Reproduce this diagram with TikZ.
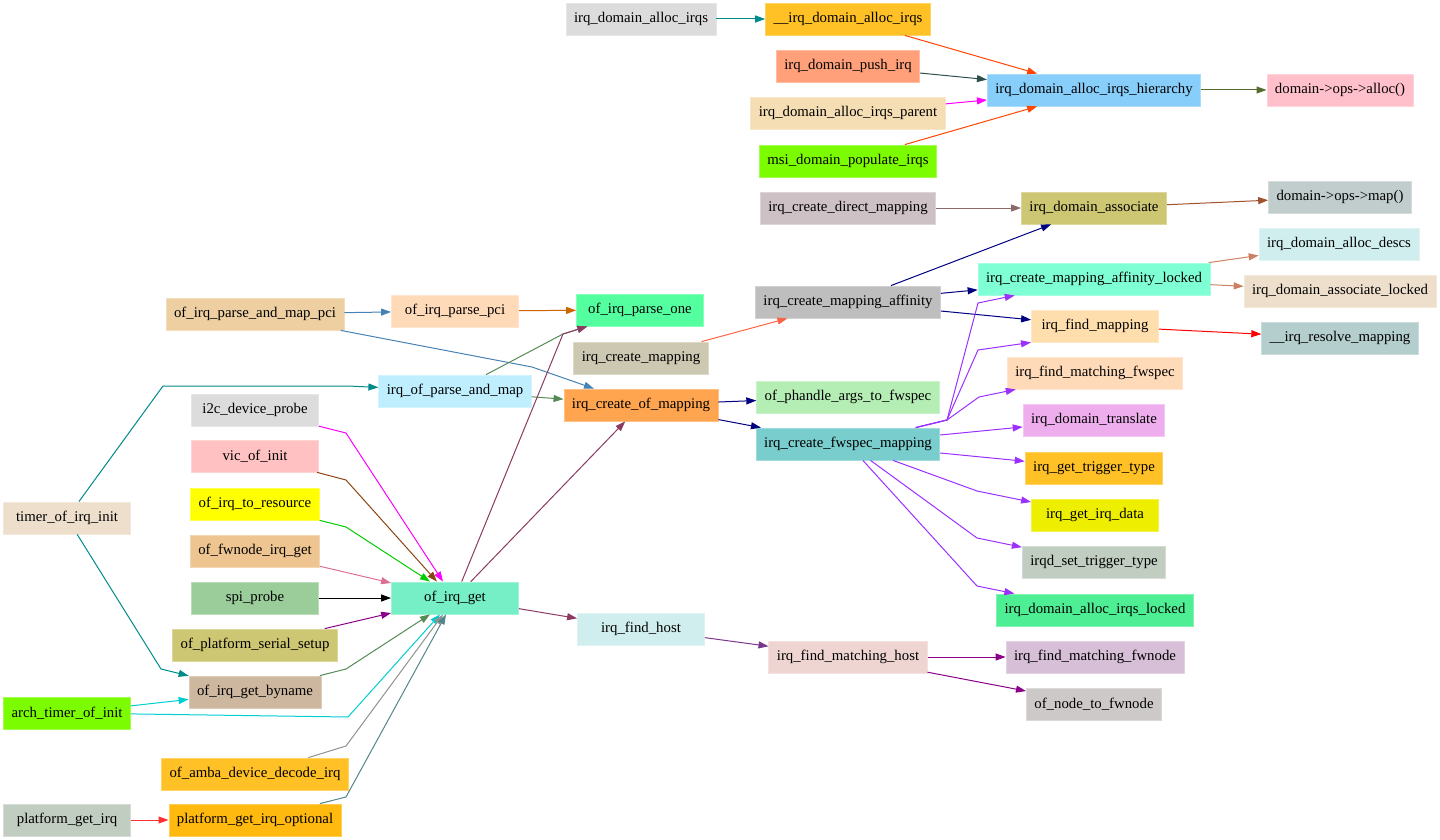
\documentclass[tikz,border=0pt]{standalone}
\usepackage{fontspec}
\setmainfont{Liberation Serif}
\usepackage{tikz}
\usetikzlibrary{arrows.meta}

% node fills
\definecolor{nGains}{HTML}{DCDCDC}
\definecolor{nGold}{HTML}{FFC125}
\definecolor{nSalmon}{HTML}{FFA07A}
\definecolor{nWheat}{HTML}{F5DEB3}
\definecolor{nLawn}{HTML}{7CFC00}
\definecolor{nSky}{HTML}{87CEFA}
\definecolor{nPink}{HTML}{FFC0CB}
\definecolor{nLavBlush}{HTML}{CDC1C5}
\definecolor{nKhaki}{HTML}{CDC673}
\definecolor{nAzure}{HTML}{C1CDCD}
\definecolor{nLCyan}{HTML}{D1EEEE}
\definecolor{nAqua}{HTML}{7FFFD4}
\definecolor{nAntique}{HTML}{EEDFCC}
\definecolor{nGray}{HTML}{BEBEBE}
\definecolor{nNavajo}{HTML}{FFDEAD}
\definecolor{nLCyanB}{HTML}{B4CDCD}
\definecolor{nCornsilk}{HTML}{CDC8B1}
\definecolor{nSeaA}{HTML}{54FF9F}
\definecolor{nPeach}{HTML}{FFDAB9}
\definecolor{nNavajoB}{HTML}{EECFA1}
\definecolor{nLBlue}{HTML}{BFEFFF}
\definecolor{nTan}{HTML}{FFA54F}
\definecolor{nDSea}{HTML}{B4EEB4}
\definecolor{nSlate}{HTML}{79CDCD}
\definecolor{nPlum}{HTML}{EEAEEE}
\definecolor{nYellowB}{HTML}{EEEE00}
\definecolor{nHoney}{HTML}{C1CDC1}
\definecolor{nSeaB}{HTML}{4EEE94}
\definecolor{nRosy}{HTML}{FFC1C1}
\definecolor{nYellow}{HTML}{FFFF00}
\definecolor{nBurly}{HTML}{EEC591}
\definecolor{nDSeaC}{HTML}{9BCD9B}
\definecolor{nBisque}{HTML}{CDB79E}
\definecolor{nDGold}{HTML}{FFB90F}
\definecolor{nAquaB}{HTML}{76EEC6}
\definecolor{nMisty}{HTML}{EED5D2}
\definecolor{nThistle}{HTML}{D8BFD8}
\definecolor{nSnow}{HTML}{CDC9C9}

% edge colours
\definecolor{eTeal}{HTML}{008B8B}
\definecolor{eOrangeRed}{HTML}{FF4500}
\definecolor{eDSlate}{HTML}{2F4F4F}
\definecolor{eMagenta}{HTML}{FF00FF}
\definecolor{eOlive}{HTML}{556B2F}
\definecolor{eRosy}{HTML}{8B6969}
\definecolor{eSienna}{HTML}{A0522D}
\definecolor{eNavy}{HTML}{000080}
\definecolor{eSalmon}{HTML}{CD8162}
\definecolor{eRed}{HTML}{FF0000}
\definecolor{eTomato}{HTML}{FF6347}
\definecolor{eSteel}{HTML}{4682B4}
\definecolor{eDOrange}{HTML}{CD6600}
\definecolor{ePale}{HTML}{548B54}
\definecolor{ePurple}{HTML}{9B30FF}
\definecolor{eSaddle}{HTML}{8B4513}
\definecolor{eGreen}{HTML}{00CD00}
\definecolor{eViolet}{HTML}{DB7093}
\definecolor{eDMagenta}{HTML}{8B008B}
\definecolor{eTurq}{HTML}{00CED1}
\definecolor{eGray}{HTML}{919191}
\definecolor{eCadet}{HTML}{53868B}
\definecolor{eFire}{HTML}{FF3030}
\definecolor{eHot}{HTML}{8B3A62}
\definecolor{eOrchid}{HTML}{7A378B}

\begin{document}
\begin{tikzpicture}[
  x=0.5pt,y=-0.5pt,
  font=\fontsize{7.4}{8.8}\selectfont,
  fn/.style={draw=#1!70!white,fill=#1,line width=0.4pt,
             minimum height=16pt,minimum width=63.5pt,
             inner xsep=4pt,inner ysep=0pt},
  ar/.style={-{Triangle[length=5pt,width=3.5pt]},line width=0.5pt}
]
\useasboundingbox (0,0) rectangle (1440,840);

%%%%%%%%%%%%%%%%%%%%%% left column %%%%%%%%%%%%%%%%%%%%%%%%%%%%%%%%%%%%%%%%%
\node[fn=nAntique] (timer) at ( 67,518) {timer\_of\_irq\_init};
\node[fn=nLawn]    (arch)  at ( 67,713) {arch\_timer\_of\_init};
\node[fn=nHoney]   (pgi)   at ( 67,820) {platform\_get\_irq};

\node[fn=nNavajoB] (mappci)  at (255,314) {of\_irq\_parse\_and\_map\_pci};
\node[fn=nGains]   (i2c)     at (255,410) {i2c\_device\_probe};
\node[fn=nRosy]    (vic)     at (255,456) {vic\_of\_init};
\node[fn=nYellow]  (tores)   at (255,504) {of\_irq\_to\_resource};
\node[fn=nBurly]   (fwget)   at (255,551) {of\_fwnode\_irq\_get};
\node[fn=nDSeaC]   (spi)     at (255,598) {spi\_probe};
\node[fn=nKhaki]   (serial)  at (255,645) {of\_platform\_serial\_setup};
\node[fn=nBisque]  (byname)  at (255,692) {of\_irq\_get\_byname};
\node[fn=nGold]    (amba)    at (255,774) {of\_amba\_device\_decode\_irq};
\node[fn=nDGold]   (optional) at (255,820) {platform\_get\_irq\_optional};

\node[fn=nPeach]   (parsepci) at (455,311) {of\_irq\_parse\_pci};
\node[fn=nLBlue]   (parsemap) at (455,391) {irq\_of\_parse\_and\_map};
\node[fn=nAquaB]   (ofget)    at (455,598) {of\_irq\_get};

%%%%%%%%%%%%%%%%%%%%%% middle column %%%%%%%%%%%%%%%%%%%%%%%%%%%%%%%%%%%%%%
\node[fn=nGains]    (dalloc)    at (641, 19) {irq\_domain\_alloc\_irqs};
\node[fn=nSeaA]     (parseone)  at (640,310) {of\_irq\_parse\_one};
\node[fn=nCornsilk] (createmap) at (641,358) {irq\_create\_mapping};
\node[fn=nTan]      (ofmap)     at (641,405) {irq\_create\_of\_mapping};
\node[fn=nLCyan]    (findhost)  at (641,629) {irq\_find\_host};

\node[fn=nGold]     (udalloc) at (848, 19) {\_\_irq\_domain\_alloc\_irqs};
\node[fn=nSalmon]   (push)    at (848, 66) {irq\_domain\_push\_irq};
\node[fn=nWheat]    (parent)  at (848,113) {irq\_domain\_alloc\_irqs\_parent};
\node[fn=nLawn]     (msi)     at (848,161) {msi\_domain\_populate\_irqs};
\node[fn=nLavBlush] (direct)  at (848,208) {irq\_create\_direct\_mapping};
\node[fn=nGray]     (affin)   at (848,302) {irq\_create\_mapping\_affinity};
\node[fn=nDSea]     (phandle) at (848,397) {of\_phandle\_args\_to\_fwspec};
\node[fn=nSlate]    (fwspec)  at (848,444) {irq\_create\_fwspec\_mapping};
\node[fn=nMisty]    (mhost)   at (848,657) {irq\_find\_matching\_host};

%%%%%%%%%%%%%%%%%%%%%% right columns %%%%%%%%%%%%%%%%%%%%%%%%%%%%%%%%%%%%%%
\node[fn=nSky]      (hier)      at (1094, 90) {irq\_domain\_alloc\_irqs\_hierarchy};
\node[fn=nKhaki]    (assoc)     at (1094,208) {irq\_domain\_associate};
\node[fn=nAqua]     (locked)    at (1094,279) {irq\_create\_mapping\_affinity\_locked};
\node[fn=nNavajo]   (findmap)   at (1095,326) {irq\_find\_mapping};
\node[fn=nPeach]    (matchfw)   at (1095,373) {irq\_find\_matching\_fwspec};
\node[fn=nPlum]     (translate) at (1094,420) {irq\_domain\_translate};
\node[fn=nGold]     (trigger)   at (1094,468) {irq\_get\_trigger\_type};
\node[fn=nYellowB]  (irqdata)   at (1095,515) {irq\_get\_irq\_data};
\node[fn=nHoney]    (settrig)   at (1094,562) {irqd\_set\_trigger\_type};
\node[fn=nSeaB]     (alocked)   at (1095,610) {irq\_domain\_alloc\_irqs\_locked};
\node[fn=nThistle]  (mfwnode)   at (1095,657) {irq\_find\_matching\_fwnode};
\node[fn=nSnow]     (tofwnode)  at (1094,704) {of\_node\_to\_fwnode};

\node[fn=nPink]     (opsalloc) at (1340, 90) {domain->ops->alloc()};
\node[fn=nAzure]    (opsmap)   at (1340,197) {domain->ops->map()};
\node[fn=nLCyan]    (descs)    at (1339,244) {irq\_domain\_alloc\_descs};
\node[fn=nAntique]  (assocl)   at (1340,291) {irq\_domain\_associate\_locked};
\node[fn=nLCyanB]   (resolve)  at (1340,338) {\_\_irq\_resolve\_mapping};

%%%%%%%%%%%%%%%%%%%%%% calls: alloc path %%%%%%%%%%%%%%%%%%%%%%%%%%%%%%%%%%
\draw[ar,eTeal]      (dalloc) -- (udalloc);
\draw[ar,eOrangeRed] (udalloc) -- (hier);
\draw[ar,eDSlate]    (push) -- (hier);
\draw[ar,eMagenta]   (parent) -- (hier);
\draw[ar,eOrangeRed] (msi) -- (hier);
\draw[ar,eOlive]     (hier) -- (opsalloc);

%%%%%%%%%%%%%%%%%%%%%% calls: mapping %%%%%%%%%%%%%%%%%%%%%%%%%%%%%%%%%%%%%
\draw[ar,eRosy]   (direct) -- (assoc);
\draw[ar,eSienna] (assoc) -- (opsmap);
\draw[ar,eNavy]   (affin) -- (assoc);
\draw[ar,eNavy]   (affin) -- (locked);
\draw[ar,eNavy]   (affin) -- (findmap);
\draw[ar,eSalmon] (locked) -- (descs);
\draw[ar,eSalmon] (locked) -- (assocl);
\draw[ar,eRed]    (findmap) -- (resolve);
\draw[ar,eTomato] (createmap) -- (affin);

\draw[ar,eSteel]   (mappci) -- (parsepci);
\draw[ar,eSteel]   (mappci) -- (532,367) -- (ofmap);
\draw[ar,eDOrange] (parsepci) -- (parseone);
\draw[ar,ePale]    (parsemap) -- (563,334) -- (parseone);
\draw[ar,ePale]    (parsemap) -- (ofmap);
\draw[ar,eNavy]    (ofmap) -- (phandle);
\draw[ar,eNavy]    (ofmap) -- (fwspec);

%%%%%%%%%%%%%%%%%%%%%% calls: fwspec %%%%%%%%%%%%%%%%%%%%%%%%%%%%%%%%%%%%%%
\draw[ar,ePurple] (fwspec) -- (947,420) -- (978,303) -- (locked);
\draw[ar,ePurple] (fwspec) -- (947,420) -- (978,350) -- ([xshift=-32pt]findmap.south);
\draw[ar,ePurple] (fwspec) -- (947,420) -- (979,397) -- (matchfw);
\draw[ar,ePurple] (fwspec) -- (translate);
\draw[ar,ePurple] (fwspec) -- (trigger);
\draw[ar,ePurple] (fwspec) -- (977,491) -- (irqdata);
\draw[ar,ePurple] (fwspec) -- (977,538) -- (settrig);
\draw[ar,ePurple] (fwspec) -- (977,586) -- (alocked);

%%%%%%%%%%%%%%%%%%%%%% calls into of_irq_get %%%%%%%%%%%%%%%%%%%%%%%%%%%%%%
\draw[ar,eTeal] (timer) -- (163,386) -- (348,386) -- (parsemap);
\draw[ar,eTeal] (timer) -- (161,669) -- (byname);
\draw[ar,eTurq] (arch) -- (byname);
\draw[ar,eTurq] (arch) -- (348,717) -- ([xshift=-7.5pt]ofget.south);
\draw[ar,eFire] (pgi) -- (optional);

\draw[ar,eMagenta]  (i2c) -- (346,433) -- ([xshift=-6pt]ofget.north);
\draw[ar,eSaddle]   (vic) -- (346,480) -- ([xshift=-9pt]ofget.north);
\draw[ar,eGreen]    (tores) -- (346,527) -- ([xshift=-12.5pt]ofget.north);
\draw[ar,eViolet]   (fwget) -- (ofget);
\draw[ar,black]     (spi) -- (ofget);
\draw[ar,eDMagenta] (serial) -- (ofget);
\draw[ar,ePale]     (byname) -- (346,669) -- ([xshift=-12.5pt]ofget.south);
\draw[ar,eGray]     (amba) -- (346,746) -- ([xshift=-6pt]ofget.south);
\draw[ar,eCadet]    (optional) -- (346,797) -- ([xshift=-4.5pt]ofget.south);

%%%%%%%%%%%%%%%%%%%%%% calls out of of_irq_get %%%%%%%%%%%%%%%%%%%%%%%%%%%%
\draw[ar,eHot]       (ofget) -- (563,334) -- (parseone);
\draw[ar,eHot]       (ofget) -- (ofmap);
\draw[ar,eHot]       (ofget) -- (findhost);
\draw[ar,eOrchid]    (findhost) -- (mhost);
\draw[ar,eDMagenta]  (mhost) -- (mfwnode);
\draw[ar,eDMagenta]  (mhost) -- (tofwnode);
\end{tikzpicture}
\end{document}
